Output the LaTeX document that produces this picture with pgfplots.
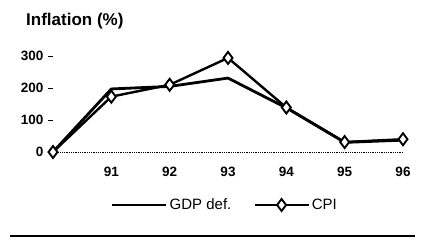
\documentclass[border=0pt]{standalone}
\usepackage{pgfplots}
\pgfplotsset{compat=1.18}
\usepackage{fontspec}
\setmainfont{Liberation Sans}
\begin{document}
\begin{tikzpicture}[x=1pt,y=1pt]
\path[use as bounding box] (0,0) rectangle (422,247);
\node[anchor=west, font=\bfseries\fontsize{17}{20}\selectfont, inner sep=0pt] at (26,226) {Inflation (\%)};
\begin{axis}[
  at={(53pt,95pt)}, anchor=origin,
  scale only axis, width=350pt, height=96pt,
  xmin=0, xmax=6, ymin=0, ymax=300,
  clip=false,
  axis line style={draw=none},
  xtick={1,2,3,4,5,6},
  xticklabels={\textbf{91},\textbf{92},\textbf{93},\textbf{94},\textbf{95},\textbf{96}},
  xtick style={draw=none},
  ytick={0,100,200,300},
  yticklabels={\textbf{0},\textbf{100},\textbf{200},\textbf{300}},
  ytick pos=left,
  tick align=outside,
  major tick length=5pt,
  ytick style={black, line width=0.9pt},
  ticklabel style={font=\fontsize{13.5}{15}\selectfont},
  xticklabel style={yshift=-7pt},
  yticklabel style={xshift=-1pt},
  legend style={at={(0.491,-0.552)}, anchor=center, draw=none, fill=none,
    font=\fontsize{15}{17}\selectfont, legend columns=2,
    /tikz/every even column/.append style={column sep=20pt}},
  legend image code/.code={\draw[mark repeat=2,mark phase=2] plot coordinates {(0pt,0pt) (27pt,0pt) (54pt,0pt)};},
]
\draw[densely dotted, line width=0.8pt] (axis cs:0,0) -- (axis cs:6,0);
\addplot[black, line width=2.8pt, no marks] coordinates {(0,0) (1,197) (2,205) (3,231) (4,138) (5,30) (6,37)};
\addlegendentry{GDP def.}
\addplot[black, line width=2.4pt, mark=diamond*, mark size=6pt, mark options={fill=white, line width=1.9pt}] coordinates {(0,0) (1,173) (2,210) (3,294) (4,139) (5,31) (6,40)};
\addlegendentry{CPI}
\end{axis}
\draw[line width=2pt] (10,11) -- (415,11);
\end{tikzpicture}
\end{document}
